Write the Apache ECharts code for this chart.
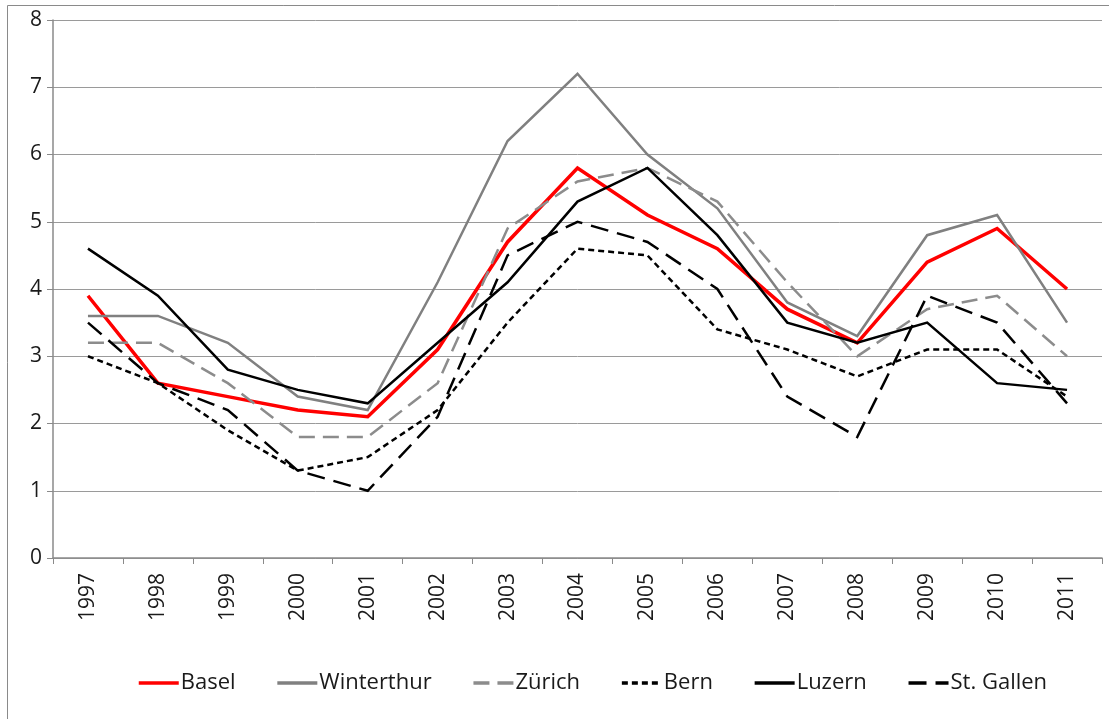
<!DOCTYPE html>
<html>
<head>
<meta charset="utf-8">
<script src="https://cdn.jsdelivr.net/npm/echarts@6/dist/echarts.min.js"></script>
<style>
  html, body { margin: 0; padding: 0; background: #fff; }
  #chart { width: 1109px; height: 719px; }
</style>
</head>
<body>
<div id="chart"></div>
<script>
const years = ['1997', '1998', '1999', '2000', '2001', '2002', '2003', '2004', '2005', '2006', '2007', '2008', '2009', '2010', '2011']
const basel = [3.9, 2.6, 2.4, 2.2, 2.1, 3.1, 4.7, 5.8, 5.1, 4.6, 3.7, 3.2, 4.4, 4.9, 4.0]
const winterthur = [3.6, 3.6, 3.2, 2.4, 2.2, 4.1, 6.2, 7.2, 6.0, 5.2, 3.8, 3.3, 4.8, 5.1, 3.5]
const zuerich = [3.2, 3.2, 2.6, 1.8, 1.8, 2.6, 4.9, 5.6, 5.8, 5.3, 4.1, 3.0, 3.7, 3.9, 3.0]
const bern = [3.0, 2.6, 1.9, 1.3, 1.5, 2.2, 3.5, 4.6, 4.5, 3.4, 3.1, 2.7, 3.1, 3.1, 2.4]
const luzern = [4.6, 3.9, 2.8, 2.5, 2.3, 3.2, 4.1, 5.3, 5.8, 4.8, 3.5, 3.2, 3.5, 2.6, 2.5]
const stGallen = [3.5, 2.6, 2.2, 1.3, 1.0, 2.1, 4.5, 5.0, 4.7, 4.0, 2.4, 1.8, 3.9, 3.5, 2.3]
const yTicks = [0, 1, 2, 3, 4, 5, 6, 7, 8]

const font = '"Open Sans", "Noto Sans", sans-serif'

function line(name, data, color, width, type) {
  return {
    name, type: 'line', data,
    symbol: 'none',
    lineStyle: { color, width, type, cap: 'butt', join: 'miter' },
    itemStyle: { color },
    emphasis: { disabled: true },
    animation: false,
  }
}

const chart = echarts.init(document.getElementById('chart'))
chart.setOption({
  textStyle: { fontFamily: font },
  graphic: [{
    type: 'polyline',
    shape: { points: [[7.5, 730], [7.5, 5.5], [1120, 5.5]] },
    style: { stroke: '#8a8a8a', lineWidth: 1, fill: null },
    silent: true,
  }],
  grid: { left: 53, right: 7, top: 20, bottom: 161 },
  legend: {
    top: 667,
    left: 132,
    itemWidth: 40,
    itemHeight: 14,
    itemGap: 40,
    itemStyle: { opacity: 0 },
    lineStyle: { width: 3.5 },
    textStyle: { fontSize: 22, color: '#1a1a1a', fontFamily: font, padding: [0, 0, 0, -3] },
    data: ['Basel', 'Winterthur', 'Zürich', 'Bern', 'Luzern', 'St. Gallen'],
  },
  xAxis: {
    type: 'category',
    data: years,
    boundaryGap: true,
    axisLine: { lineStyle: { color: '#8a8a8a', width: 1.5 } },
    axisTick: { show: true, length: 6, lineStyle: { color: '#8a8a8a' } },
    axisLabel: { rotate: 90, fontSize: 21, color: '#1a1a1a', margin: 15, fontFamily: font },
  },
  yAxis: {
    type: 'value',
    min: yTicks[0],
    max: yTicks[yTicks.length - 1],
    interval: 1,
    axisLine: { show: true, lineStyle: { color: '#8a8a8a', width: 1.5 } },
    axisTick: { show: true, length: 6, lineStyle: { color: '#8a8a8a' } },
    axisLabel: { fontSize: 21, color: '#1a1a1a', margin: 11, fontFamily: font },
    splitLine: { lineStyle: { color: '#9a9a9a', width: 1 } },
  },
  series: [
    line('Basel', basel, '#ff0000', 3.5, 'solid'),
    line('Winterthur', winterthur, '#808080', 2.5, 'solid'),
    line('Zürich', zuerich, '#8c8c8c', 2.5, [16, 8]),
    line('Bern', bern, '#000000', 2.5, [6, 4]),
    line('Luzern', luzern, '#000000', 2.5, 'solid'),
    line('St. Gallen', stGallen, '#000000', 2.5, [18, 9]),
  ],
})
</script>
</body>
</html>
